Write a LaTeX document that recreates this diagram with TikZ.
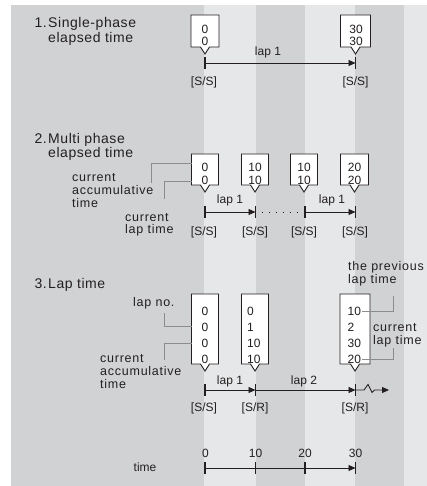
\documentclass[tikz,border=0pt]{standalone}
\usepackage{fontspec}
\setmainfont{Liberation Sans}
\newfontfamily\headfont[LetterSpace=4]{Liberation Sans}
\newfontfamily\sidefont[LetterSpace=6]{Liberation Sans}
\usetikzlibrary{arrows.meta}
\definecolor{bgmid}{HTML}{D1D2D4}
\definecolor{bglight}{HTML}{E6E7E8}
\definecolor{leadgray}{HTML}{8C8C8C}
\definecolor{ink}{HTML}{231F20}
\newcommand\callout[4]{%
  \draw[callbox] (#1-#4,#2) -- (#1+#4,#2) -- (#1+#4,#3) -- (#1+4.5,#3) -- (#1,#3+7) -- (#1-4.5,#3) -- (#1-#4,#3) -- cycle;}
\newcommand\tickmark[2]{\draw[tickline] (#1,#2-6) -- (#1,#2+6);}
\begin{document}
\begin{tikzpicture}[x=1pt,y=-1pt,
  callbox/.style={draw=ink,fill=white,line width=0.9pt,line join=miter},
  tickline/.style={draw=ink,line width=1.6pt},
  axis/.style={draw=ink,line width=0.9pt},
  arr/.style={axis,-{Triangle[length=7pt,width=6pt]}},
  num/.style={font=\fontsize{12}{14}\selectfont,inner sep=0pt,text=ink},
  lbl/.style={font=\fontsize{12}{14}\selectfont,inner sep=0pt,text=ink},
  head/.style={font=\headfont\fontsize{14}{14}\selectfont,inner sep=0pt,text=ink},
  side/.style={font=\sidefont\fontsize{12.5}{13}\selectfont,inner sep=0pt,text=ink,anchor=base west},
  leader/.style={draw=leadgray,line width=0.9pt}]
\useasboundingbox (0,0) rectangle (427,486);
% background bands
\fill[bgmid] (11,5) rectangle (427,486);
\fill[bglight] (204,5) rectangle (256,486);
\fill[bglight] (305,5) rectangle (355,486);
\fill[bglight] (404,5) rectangle (427,486);

% ---------- headings
\node[head,anchor=base east] (h1n) at (47,28) {1.};
\node[head,anchor=base west] (h1a) at (48,28) {Single-phase};
\node[head,anchor=base west] (h1b) at (48,42.5) {elapsed time};
\node[head,anchor=base east] (h2n) at (47,143.5) {2.};
\node[head,anchor=base west] (h2a) at (48,143.5) {Multi phase};
\node[head,anchor=base west] (h2b) at (48,158) {elapsed time};
\node[head,anchor=base east] (h3n) at (47,288.5) {3.};
\node[head,anchor=base west] (h3a) at (48,288.5) {Lap time};

% ---------- section 1
\callout{205}{15}{47}{14}
\callout{355.5}{15}{47}{15}
\node[num] (n1a1) at (205,29) {0};
\node[num] (n1a2) at (205,41) {0};
\node[num] (n1b1) at (356,29) {30};
\node[num] (n1b2) at (356,41) {30};
\coordinate (t1a) at (205,63);
\coordinate (t1b) at (355.5,63);
\tickmark{205}{63}
\tickmark{355.5}{63}
\draw[arr] (t1a) -- (t1b);
\node[lbl] (l1) at (268,52) {lap 1};
\node[lbl] (s1a) at (204,82) {[S/S]};
\node[lbl] (s1b) at (355.5,82) {[S/S]};

% ---------- section 2
\callout{205}{154}{185}{13.5}
\callout{255}{154}{185}{13.5}
\callout{304}{154}{185}{13.5}
\callout{354.5}{154}{185}{14}
\node[num] (n2a1) at (205,167) {0};
\node[num] (n2a2) at (205,180) {0};
\node[num] (n2b1) at (255,167) {10};
\node[num] (n2b2) at (255,180) {10};
\node[num] (n2c1) at (304,167) {10};
\node[num] (n2c2) at (304,180) {10};
\node[num] (n2d1) at (354.5,167) {20};
\node[num] (n2d2) at (354.5,180) {20};
\coordinate (t2a) at (205,212);
\coordinate (t2b) at (255.5,212);
\coordinate (t2c) at (305,212);
\coordinate (t2d) at (355.5,212);
\tickmark{205}{212}
\tickmark{255.5}{212}
\tickmark{305}{212}
\tickmark{355.5}{212}
\draw[arr] (t2a) -- (t2b);
\draw[axis,dash pattern=on 1.5pt off 5.5pt] ([xshift=6pt]t2b) -- (t2c);
\draw[arr] (t2c) -- (t2d);
\node[lbl] (l2a) at (230,200) {lap 1};
\node[lbl] (l2b) at (332,200) {lap 1};
\node[lbl] (s2a) at (204,232) {[S/S]};
\node[lbl] (s2b) at (255,232) {[S/S]};
\node[lbl] (s2c) at (304,232) {[S/S]};
\node[lbl] (s2d) at (355,232) {[S/S]};
% side labels section 2
\node[side] (c2a) at (72,181.5) {current};
\node[side] (c2b) at (72,194.5) {accumulative};
\node[side] (c2c) at (72,207) {time};
\node[side] (c2d) at (125,221) {current};
\node[side] (c2e) at (125,233.5) {lap time};
\coordinate (ld1) at (191.5,163.5);
\coordinate (ld1e) at (151,183.5);
\draw[leader] (ld1) -| (ld1e);
\coordinate (ld2) at (191.5,181.5);
\coordinate (ld2e) at (164,198.5);
\draw[leader] (ld2) -| (ld2e);

% ---------- section 3
\callout{205}{294}{364}{13.5}
\callout{255}{294}{364}{13.5}
\callout{355}{294}{364}{15}
\node[num,anchor=west] (n3a1) at (201.5,311) {0};
\node[num,anchor=west] (n3a2) at (201.5,327) {0};
\node[num,anchor=west] (n3a3) at (201.5,343) {0};
\node[num,anchor=west] (n3a4) at (201.5,359) {0};
\node[num,anchor=west] (n3b1) at (247,311) {0};
\node[num,anchor=west] (n3b2) at (247,327) {1};
\node[num,anchor=west] (n3b3) at (247,343) {10};
\node[num,anchor=west] (n3b4) at (247,359) {10};
\node[num,anchor=west] (n3c1) at (347.5,311) {10};
\node[num,anchor=west] (n3c2) at (347.5,327) {2};
\node[num,anchor=west] (n3c3) at (347.5,343) {30};
\node[num,anchor=west] (n3c4) at (347.5,359) {20};
\coordinate (t3a) at (205,390);
\coordinate (t3b) at (255.5,390);
\coordinate (t3c) at (355.5,390);
\coordinate (t3z) at (389,390);
\tickmark{205}{390}
\tickmark{255.5}{390}
\tickmark{355.5}{390}
\draw[arr] (t3a) -- (t3b);
\draw[arr] (t3b) -- (t3c);
\draw[arr,line join=miter] (t3c) -- (364,390) -- (368,384.5) -- (372,392.5) -- (374.5,390) -- (t3z);
\node[lbl] (l3a) at (230,381) {lap 1};
\node[lbl] (l3b) at (304,381) {lap 2};
\node[lbl] (s3a) at (204,408) {[S/S]};
\node[lbl] (s3b) at (255,408) {[S/R]};
\node[lbl] (s3c) at (355,408) {[S/R]};
% side labels section 3
\node[side] (c3a) at (133,306) {lap no.};
\node[side] (c3b) at (100,362.5) {current};
\node[side] (c3c) at (100,375.5) {accumulative};
\node[side] (c3d) at (100,388.5) {time};
\node[side] (c3e) at (348,270) {the previous};
\node[side] (c3f) at (348,283) {lap time};
\node[side] (c3g) at (373,331) {current};
\node[side] (c3h) at (373,344) {lap time};
\coordinate (ld3) at (164,313);
\coordinate (ld3e) at (191.5,326.5);
\draw[leader] (ld3) |- (ld3e);
\coordinate (ld4) at (191.5,343);
\coordinate (ld4e) at (164,360);
\draw[leader] (ld4) -| (ld4e);
\coordinate (ld5) at ([xshift=1pt]n3c1.east);
\coordinate (ld5e) at (393,296);
\draw[leader] (ld5) -| (ld5e);
\coordinate (ld6) at ([xshift=1pt]n3c4.east);
\coordinate (ld6e) at (393,348);
\draw[leader] (ld6) -| (ld6e);

% ---------- time axis
\coordinate (t4a) at (205,468);
\coordinate (t4d) at (355.5,468);
\tickmark{205}{468}
\tickmark{255.5}{468}
\tickmark{305}{468}
\tickmark{355.5}{468}
\draw[arr] (t4a) -- (t4d);
\node[lbl] (v0) at (205.5,453) {0};
\node[lbl] (v10) at (255.5,453) {10};
\node[lbl] (v20) at (305,453) {20};
\node[lbl] (v30) at (355.5,453) {30};
\node[lbl] (tm) at (145,467) {time};
\end{tikzpicture}
\end{document}
